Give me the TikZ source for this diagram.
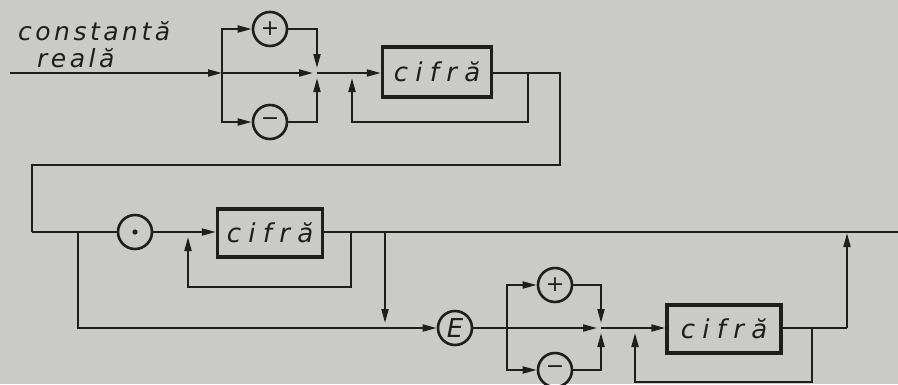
\documentclass[tikz,border=0pt]{standalone}
\usepackage{fontspec}
\setmainfont{DejaVu Sans}
\newfontfamily\lett[LetterSpace=14]{DejaVu Sans}
\newfontfamily\boxlett[LetterSpace=28]{DejaVu Sans}
\usetikzlibrary{arrows.meta}
\definecolor{paper}{RGB}{202,202,200}
\definecolor{ink}{RGB}{30,30,30}
\tikzset{
  ln/.style={draw=ink, line width=2pt},
  arr/.style={ln, -{Triangle[length=14pt,width=7pt]}},
  circ/.style={circle, draw=ink, line width=2.6pt, minimum size=34pt, inner sep=0pt, text=ink, font=\fontsize{22}{22}\selectfont},
  cbox/.style={draw=ink, line width=3.5pt, inner sep=0pt, text=ink, font=\boxlett\itshape\fontsize{26}{26}\selectfont},
  lbl/.style={font=\lett\itshape\fontsize{25}{25}\selectfont, inner sep=0pt, text=ink}
}
\begin{document}
\begin{tikzpicture}[x=1pt,y=-1pt]
\useasboundingbox (0,0) rectangle (898,384);
\fill[paper] (0,0) rectangle (898,384);

% label
\node[lbl, anchor=base west] (t1) at (18,40) {constantă};
\node[lbl, anchor=base west] (t2) at (37,67) {reală};

% ---------- row 1 ----------
\coordinate (st) at (10,73);
\coordinate (s1) at (222,73);
\coordinate (r1) at (317,73);
\coordinate (l1) at (352,73);
\coordinate (o1) at (528,73);
\coordinate (lb1) at (528,122);
\coordinate (c1) at (560,73);
\coordinate (c2) at (560,165);
\coordinate (c3) at (32,165);
\coordinate (c4) at (32,232);
\node[circ] (p1) at (270,29) {+};
\node[circ] (m1) at (270,122) {−};
\node[cbox, minimum width=109pt, minimum height=50pt] (b1) at (437,72) {cifră};

\draw[arr] (st) -- (s1);
\draw[arr] (s1) |- (p1.west);
\draw[arr] (s1) |- (m1.west);
\draw[arr, shorten >=5pt] (p1.east) -| (r1);
\draw[arr, shorten >=5pt] (m1.east) -| (r1);
\draw[arr, shorten >=4pt] (s1) -- (r1);
\draw[arr] (r1) -- (b1.west |- r1);
\draw[ln] (b1.east |- o1) -- (c1) -- (c2) -- (c3) -- (c4);
\draw[arr, shorten >=5pt] (o1) -- (lb1) -| (l1);

% ---------- row 2 ----------
\coordinate (j2) at (78,232);
\coordinate (k2) at (78,328);
\coordinate (l2) at (188,232);
\coordinate (o2) at (351,232);
\coordinate (lb2) at (351,287);
\coordinate (j3) at (385,232);
\coordinate (k3) at (385,328);
\coordinate (en) at (898,232);
\node[circ] (dt) at (135,232) {};
\fill[ink] (dt.center) circle (2.6pt);
\node[cbox, minimum width=105pt, minimum height=48pt] (b2) at (270,233) {cifră};

\draw[ln] (c4) -- (dt.west);
\draw[arr] (dt.east) -- (b2.west |- l2);
\draw[ln] (b2.east |- o2) -- (en);
\draw[arr, shorten >=5pt] (o2) -- (lb2) -| (l2);
\draw[arr, shorten >=5pt] (j3) -- (k3);

% ---------- row 3 ----------
\node[circ] (E) at (455,328) {\fontsize{26}{26}\selectfont\itshape E};
\coordinate (s3) at (507,328);
\coordinate (r3) at (601,328);
\coordinate (l3) at (635,328);
\coordinate (o3) at (812,328);
\coordinate (lb3) at (812,382);
\coordinate (x3) at (847,328);
\coordinate (x3t) at (847,232);
\node[circ] (p3) at (555,285) {+};
\node[circ] (m3) at (555,370) {−};
\node[cbox, minimum width=114pt, minimum height=48pt] (b3) at (724,329) {cifră};

\draw[arr] (j2) -- (k2) -- (E.west);
\draw[ln] (E.east) -- (s3);
\draw[arr] (s3) |- (p3.west);
\draw[arr] (s3) |- (m3.west);
\draw[arr, shorten >=5pt] (p3.east) -| (r3);
\draw[arr, shorten >=5pt] (m3.east) -| (r3);
\draw[arr, shorten >=4pt] (s3) -- (r3);
\draw[arr] (r3) -- (b3.west |- r3);
\draw[ln] (b3.east |- o3) -- (x3);
\draw[arr, shorten >=1pt] (x3) -- (x3t);
\draw[arr, shorten >=5pt] (o3) -- (lb3) -| (l3);
\end{tikzpicture}
\end{document}
